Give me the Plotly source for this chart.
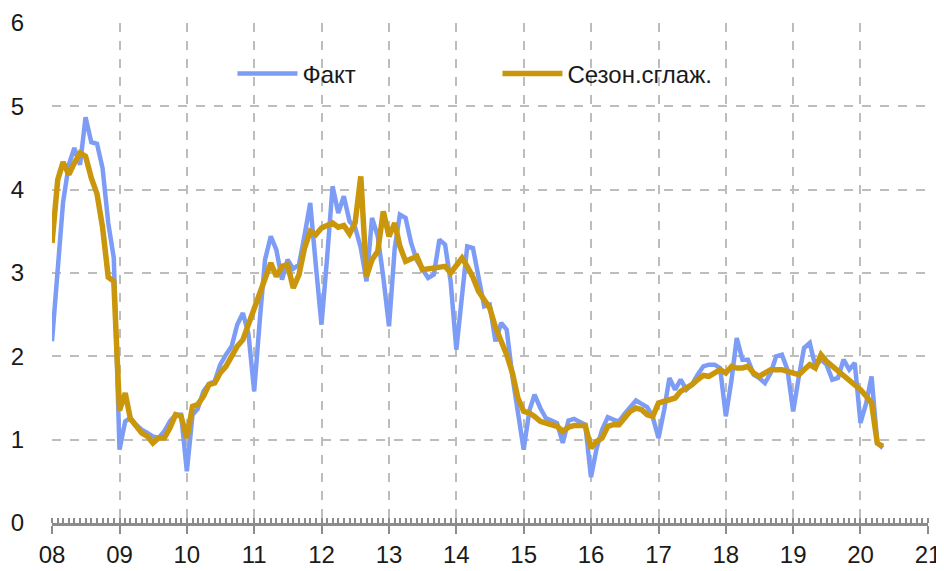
import pandas as pd
import plotly.graph_objects as go

# Monthly values, Jan 2008 .. May 2020
fact = (
    [2.18, 3.0, 3.85, 4.3, 4.5, 4.3, 4.87, 4.57, 4.55, 4.26, 3.6, 3.18]      # 2008
    + [0.88, 1.22, 1.26, 1.18, 1.12, 1.08, 1.04, 1.02, 1.1, 1.22, 1.3, 1.3]  # 2009
    + [0.62, 1.3, 1.37, 1.58, 1.67, 1.7, 1.9, 2.02, 2.12, 2.38, 2.52, 2.27]  # 2010
    + [1.58, 2.45, 3.16, 3.44, 3.28, 2.92, 3.16, 3.05, 3.1, 3.45, 3.84, 3.1]  # 2011
    + [2.38, 3.2, 4.04, 3.72, 3.92, 3.62, 3.55, 3.3, 2.9, 3.66, 3.44, 2.95]  # 2012
    + [2.36, 3.3, 3.7, 3.66, 3.36, 3.15, 3.05, 2.94, 2.98, 3.4, 3.34, 2.9]   # 2013
    + [2.08, 2.8, 3.32, 3.3, 2.95, 2.6, 2.62, 2.18, 2.4, 2.32, 1.76, 1.36]   # 2014
    + [0.88, 1.35, 1.54, 1.38, 1.26, 1.23, 1.2, 0.96, 1.23, 1.25, 1.22, 1.18]  # 2015
    + [0.55, 0.9, 1.12, 1.27, 1.24, 1.22, 1.31, 1.4, 1.47, 1.43, 1.39, 1.27]  # 2016
    + [1.02, 1.36, 1.74, 1.6, 1.72, 1.6, 1.66, 1.78, 1.88, 1.9, 1.9, 1.86]   # 2017
    + [1.28, 1.72, 2.22, 1.96, 1.96, 1.78, 1.74, 1.68, 1.8, 2.0, 2.02, 1.84]  # 2018
    + [1.34, 1.76, 2.1, 2.16, 1.88, 1.96, 1.9, 1.72, 1.74, 1.96, 1.84, 1.92]  # 2019
    + [1.2, 1.44, 1.76, 0.96, 0.9]                                            # 2020
)

smooth = (
    [3.36, 4.12, 4.33, 4.18, 4.32, 4.44, 4.4, 4.14, 3.95, 3.55, 2.95, 2.9]
    + [1.35, 1.56, 1.25, 1.16, 1.08, 1.04, 0.96, 1.02, 1.02, 1.14, 1.3, 1.28]
    + [1.02, 1.4, 1.42, 1.52, 1.66, 1.68, 1.8, 1.88, 2.0, 2.12, 2.2, 2.38]
    + [2.54, 2.72, 2.9, 3.12, 2.96, 3.08, 3.1, 2.82, 2.98, 3.3, 3.5, 3.46]
    + [3.54, 3.57, 3.6, 3.55, 3.57, 3.47, 3.6, 4.16, 2.96, 3.16, 3.26, 3.74]
    + [3.44, 3.6, 3.32, 3.14, 3.17, 3.2, 3.04, 3.05, 3.06, 3.07, 3.08, 3.0]
    + [3.1, 3.18, 3.08, 2.95, 2.78, 2.68, 2.58, 2.35, 2.18, 2.02, 1.8, 1.5]
    + [1.34, 1.32, 1.28, 1.22, 1.2, 1.18, 1.16, 1.1, 1.15, 1.17, 1.17, 1.17]
    + [0.9, 0.98, 1.02, 1.16, 1.18, 1.18, 1.26, 1.34, 1.38, 1.36, 1.3, 1.28]
    + [1.44, 1.46, 1.47, 1.5, 1.58, 1.62, 1.66, 1.72, 1.77, 1.76, 1.8, 1.84]
    + [1.8, 1.88, 1.86, 1.86, 1.88, 1.8, 1.76, 1.8, 1.84, 1.84, 1.84, 1.82]
    + [1.8, 1.78, 1.84, 1.9, 1.86, 2.02, 1.94, 1.88, 1.84, 1.78, 1.7, 1.66]
    + [1.6, 1.52, 1.44, 0.96, 0.92]
)

dates = pd.date_range("2008-01-01", periods=len(fact), freq="MS")
series_names = ["Факт", "Сезон.сглаж."]
colors = ["#7D9CF6", "#C9960C"]

FONT = "Liberation Sans, Arial, sans-serif"
FS = 24

fig = go.Figure()
fig.add_trace(go.Scatter(x=dates, y=fact, name=series_names[0], mode="lines",
                         line=dict(color=colors[0], width=4.5)))
fig.add_trace(go.Scatter(x=dates, y=smooth, name=series_names[1], mode="lines",
                         line=dict(color=colors[1], width=5.5)))

# page body has an 8px default margin, so the figure is sized to fit inside it
fig.update_layout(
    width=936, height=563,
    margin=dict(l=44, r=16, t=15, b=48),
    paper_bgcolor="white", plot_bgcolor="white",
    font=dict(family=FONT, size=FS, color="#1a1a1a"),
    showlegend=True,
    legend=dict(orientation="h", x=0.206, y=0.898, xanchor="left", yanchor="middle",
                bgcolor="rgba(0,0,0,0)", entrywidth=190, entrywidthmode="pixels",
                font=dict(family=FONT, size=FS, color="#1a1a1a"),
                itemwidth=60, tracegroupgap=0),
)

fig.update_xaxes(
    type="date",
    range=["2008-01-01", "2021-01-01"],
    dtick="M12", tick0="2008-01-01", tickformat="%y",
    showgrid=True, gridcolor="#BDBDBD", griddash="dash", gridwidth=1.5,
    showline=True, linecolor="#8C8C8C", linewidth=3,
    ticks="outside", ticklen=8, tickwidth=2, tickcolor="#8C8C8C",
    minor=dict(ticks="inside", dtick="M1", ticklen=5, tickwidth=1.5,
               tickcolor="#8C8C8C", showgrid=False),
    tickfont=dict(family=FONT, size=FS, color="#1a1a1a"),
    zeroline=False, automargin=False,
)
fig.update_yaxes(
    range=[0, 6], dtick=1,
    showgrid=True, gridcolor="#BDBDBD", griddash="dash", gridwidth=1.5,
    showline=False, zeroline=False, ticks="",
    ticklabelstandoff=27, automargin=False,
    tickfont=dict(family=FONT, size=FS, color="#1a1a1a"),
)

fig.write_html("out.html")
